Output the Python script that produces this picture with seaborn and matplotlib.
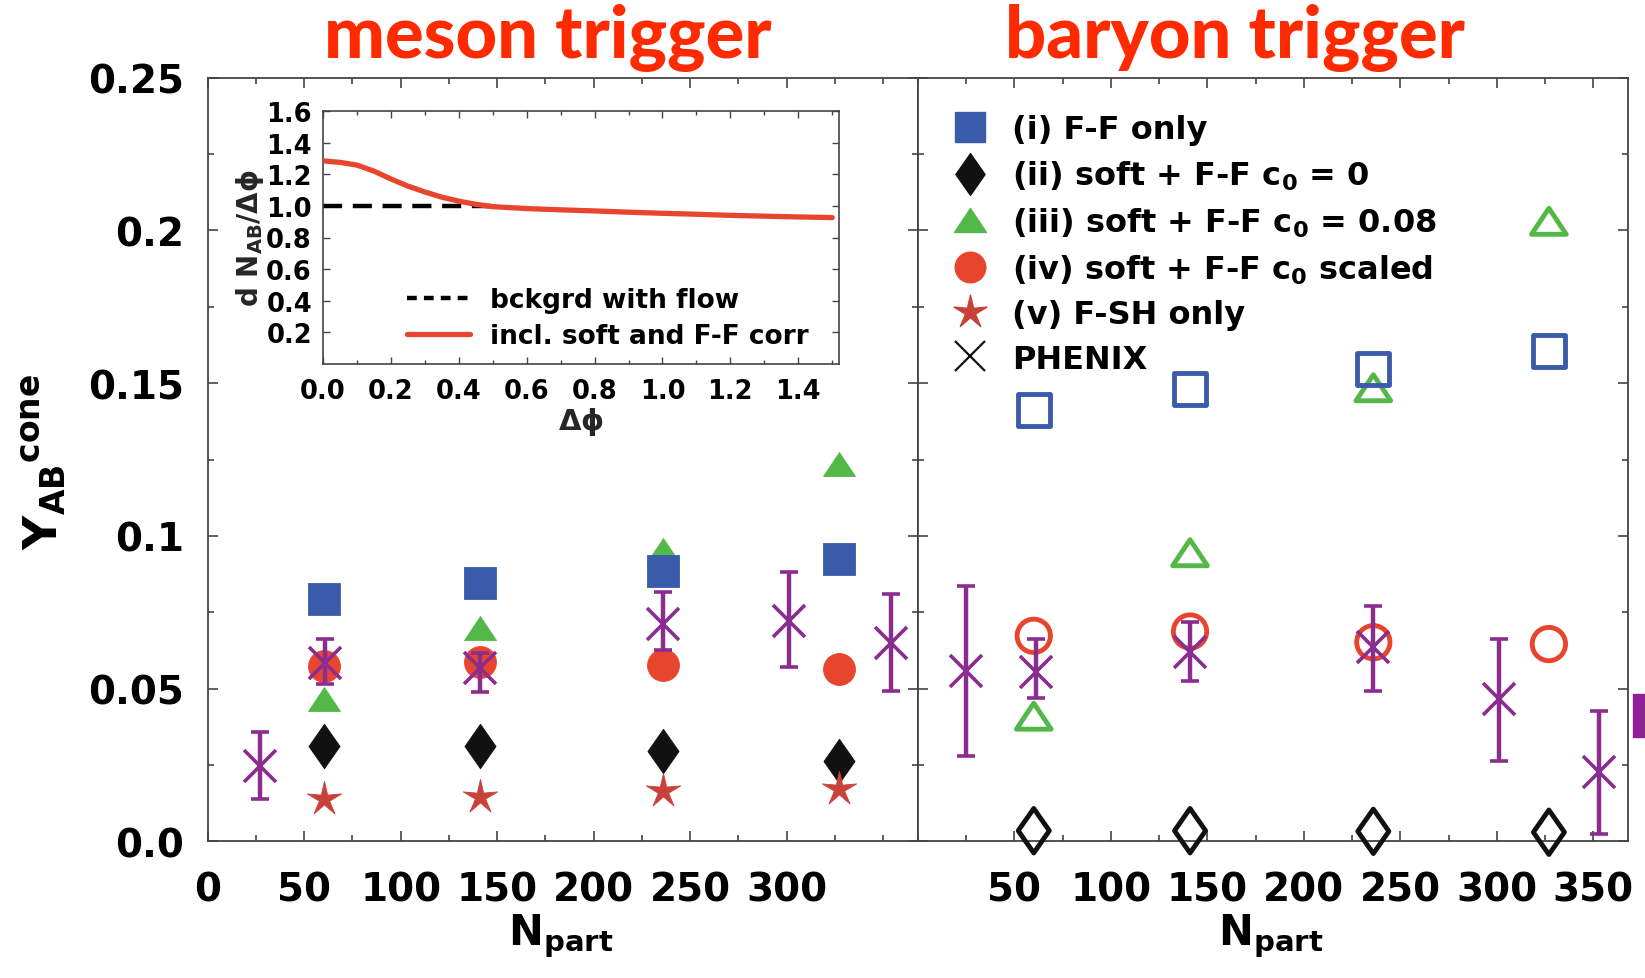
import numpy as np
import pandas as pd
import matplotlib
matplotlib.use("Agg")
import matplotlib.pyplot as plt
import seaborn as sns
from matplotlib.lines import Line2D
from matplotlib.path import Path
from matplotlib.patches import Rectangle
from matplotlib.ticker import MultipleLocator, FixedLocator

# ---------------- data ----------------
npart_model = [60, 141, 236, 327]

meson_ff_only     = [0.0793, 0.0845, 0.0886, 0.0924]
meson_soft_c0     = [0.0313, 0.0313, 0.0297, 0.0264]
meson_soft_c008   = [0.0465, 0.0697, 0.0955, 0.1235]
meson_soft_scaled = [0.0575, 0.0587, 0.0577, 0.0564]
meson_fsh_only    = [0.0139, 0.0144, 0.0166, 0.0172]

baryon_ff_only     = [0.1411, 0.1480, 0.1545, 0.1604]
baryon_soft_c0     = [0.0035, 0.0035, 0.0033, 0.0030]
baryon_soft_c008   = [0.0410, 0.0945, 0.1485, 0.2030]
baryon_soft_scaled = [0.0673, 0.0687, 0.0652, 0.0646]

phenix_meson_npart = [27, 61, 141, 236, 301, 354]
phenix_meson_y     = [0.0247, 0.0585, 0.0566, 0.0711, 0.0722, 0.0651]
phenix_meson_lo    = [0.0139, 0.0515, 0.0490, 0.0625, 0.0570, 0.0493]
phenix_meson_hi    = [0.0357, 0.0663, 0.0617, 0.0815, 0.0881, 0.0810]

phenix_baryon_npart = [25, 61, 141, 236, 301, 353]
phenix_baryon_y     = [0.0558, 0.0553, 0.0619, 0.0635, 0.0465, 0.0226]
phenix_baryon_lo    = [0.0280, 0.0470, 0.0525, 0.0493, 0.0264, 0.0024]
phenix_baryon_hi    = [0.0837, 0.0663, 0.0717, 0.0772, 0.0663, 0.0428]

inset_dphi = [0.0, 0.05, 0.1, 0.15, 0.2, 0.25, 0.3, 0.35, 0.4, 0.45, 0.5,
              0.6, 0.7, 0.8, 0.9, 1.0, 1.1, 1.2, 1.3, 1.4, 1.5]
inset_corr = [1.285, 1.275, 1.258, 1.220, 1.170, 1.125, 1.088, 1.055, 1.030, 1.010, 0.995,
              0.983, 0.975, 0.968, 0.960, 0.953, 0.947, 0.940, 0.935, 0.930, 0.926]
bkg_dphi  = [0.0, 0.5]
bkg_level = [1.0, 1.0]

legend_labels = [
    "(i) F-F only",
    r"(ii) soft + F-F c$_\mathbf{0}$ = 0",
    r"(iii) soft + F-F c$_\mathbf{0}$ = 0.08",
    r"(iv) soft + F-F c$_\mathbf{0}$ scaled",
    "(v) F-SH only",
    "PHENIX",
]
inset_legend_labels = ["bckgrd with flow", "incl. soft and F-F corr"]

left_xticks  = [0, 50, 100, 150, 200, 250, 300]
right_xticks = [50, 100, 150, 200, 250, 300, 350]
y_ticks      = [0.0, 0.05, 0.1, 0.15, 0.2, 0.25]
y_ticklabels = ["0.0", "0.05", "0.1", "0.15", "0.2", "0.25"]
inset_xticks = [0.0, 0.2, 0.4, 0.6, 0.8, 1.0, 1.2, 1.4]
inset_yticks = [0.2, 0.4, 0.6, 0.8, 1.0, 1.2, 1.4, 1.6]

# ---------------- style ----------------
sns.set_theme(style="ticks")
plt.rcParams["font.family"] = ["DejaVu Sans"]
plt.rcParams["font.weight"] = "bold"
plt.rcParams["text.color"] = "black"
plt.rcParams["xtick.labelcolor"] = "black"
plt.rcParams["ytick.labelcolor"] = "black"
plt.rcParams["mathtext.fontset"] = "dejavusans"
plt.rcParams["mathtext.default"] = "bf"

BLUE = "#3A5BAA"
BLACK = "#111111"
GREEN = "#53B848"
RED = "#E8452F"
STAR = "#C8423A"
PURPLE = "#8B2D8E"
TITLE = "#FF2A00"
SPINE = "#444444"


def closed(verts):
    v = list(verts) + [verts[0]]
    codes = [Path.MOVETO] + [Path.LINETO] * (len(verts) - 1) + [Path.CLOSEPOLY]
    return Path(v, codes)


DIAMOND = closed([(0, 1), (0.7, 0), (0, -1), (-0.7, 0)])
TRIANGLE = closed([(0, 0.75), (1, -0.75), (-1, -0.75)])
STARM = Path.unit_regular_star(5, innerCircle=0.3)

W, H = 1645, 979
fig = plt.figure(figsize=(W / 100, H / 100), dpi=100)
fig.patch.set_facecolor("white")

ax_l = fig.add_axes([207.7 / W, 1 - 842.4 / H, 710.3 / W, 763.7 / H])
ax_r = fig.add_axes([918 / W, 1 - 842.4 / H, 710 / W, 763.7 / H], sharey=ax_l)


def pts(ax, x, y, marker, ms, color, filled=True, lw=3.5, z=3, clip=True):
    df = pd.DataFrame({"Npart": x, "Y": y})
    if filled:
        sns.scatterplot(data=df, x="Npart", y="Y", ax=ax, marker=marker, s=ms ** 2,
                        color=color, edgecolor=color, linewidth=0.6, zorder=z,
                        legend=False, clip_on=clip)
    else:
        sns.scatterplot(data=df, x="Npart", y="Y", ax=ax, marker=marker, s=ms ** 2,
                        color=color, facecolor="none", edgecolor=color, linewidth=lw,
                        zorder=z, legend=False, clip_on=clip)


def phenix(ax, x, y, lo, hi):
    y = np.asarray(y)
    err = [y - np.asarray(lo), np.asarray(hi) - y]
    ax.errorbar(x, y, yerr=err, fmt="x", color=PURPLE, ms=23, mew=2.6,
                elinewidth=3.2, capsize=6.5, capthick=3.2, zorder=6, clip_on=False)


# meson trigger (left)
pts(ax_l, npart_model, meson_soft_c008, TRIANGLE, 23, GREEN, z=2)
pts(ax_l, npart_model, meson_ff_only, "s", 23, BLUE, z=3)
pts(ax_l, npart_model, meson_soft_c0, DIAMOND, 32, BLACK, z=3)
pts(ax_l, npart_model, meson_fsh_only, STARM, 26, STAR, z=3)
pts(ax_l, npart_model, meson_soft_scaled, "o", 23, RED, z=4)
phenix(ax_l, phenix_meson_npart, phenix_meson_y, phenix_meson_lo, phenix_meson_hi)

# baryon trigger (right)
pts(ax_r, npart_model, baryon_soft_c008, TRIANGLE, 25, GREEN, filled=False, z=2)
pts(ax_r, npart_model, baryon_ff_only, "s", 23, BLUE, filled=False, z=3)
pts(ax_r, npart_model, baryon_soft_c0, DIAMOND, 32, BLACK, filled=False, z=7, clip=False)
pts(ax_r, npart_model, baryon_soft_scaled, "o", 24, RED, filled=False, z=4)
phenix(ax_r, phenix_baryon_npart, phenix_baryon_y, phenix_baryon_lo, phenix_baryon_hi)

for ax, ticks in ((ax_l, left_xticks), (ax_r, right_xticks)):
    ax.set_xlim(0, 368)
    ax.set_ylim(0, 0.25)
    ax.xaxis.set_major_locator(FixedLocator(ticks))
    ax.xaxis.set_minor_locator(MultipleLocator(25))
    ax.yaxis.set_major_locator(FixedLocator(y_ticks))
    ax.yaxis.set_minor_locator(MultipleLocator(0.025))
    ax.set_xticklabels([str(t) for t in ticks])
    ax.set_xlabel("")
    ax.set_ylabel("")
    for s in ax.spines.values():
        s.set_color(SPINE)
        s.set_linewidth(1.3)
    ax.tick_params(which="both", direction="in", top=True, right=True, color=SPINE,
                   width=1.2, labelcolor="black")
    ax.tick_params(which="major", length=7)
    ax.tick_params(which="minor", length=4)
    ax.tick_params(axis="x", labelsize=28, pad=21)
    ax.tick_params(axis="y", labelsize=28, pad=17)
    for lab in ax.get_xticklabels() + ax.get_yticklabels():
        lab.set_fontweight("bold")

ax_l.set_yticklabels(y_ticklabels)
ax_r.tick_params(axis="y", labelleft=False)

# legend (right panel)
handles = [
    Line2D([], [], ls="none", marker="s", ms=22, color=BLUE),
    Line2D([], [], ls="none", marker=DIAMOND, ms=30, color=BLACK),
    Line2D([], [], ls="none", marker=TRIANGLE, ms=23, color=GREEN),
    Line2D([], [], ls="none", marker="o", ms=22, color=RED),
    Line2D([], [], ls="none", marker=STARM, ms=25, color=STAR),
    Line2D([], [], ls="none", marker="x", ms=21, mew=1.6, color=BLACK),
]
ax_r.legend(handles, legend_labels, loc="upper left", bbox_to_anchor=(0.044, 0.952),
            frameon=False, handlelength=1.3, handletextpad=0.67,
            labelspacing=0.42, borderaxespad=0, borderpad=0,
            prop={"weight": "bold", "size": 23})

# inset
axin = fig.add_axes([323 / W, 1 - 365 / H, 516 / W, 253 / H])
sns.lineplot(x=bkg_dphi, y=bkg_level, ax=axin, color="black", lw=3.2,
             linestyle=(0, (4.3, 2.4)), zorder=2)
sns.lineplot(x=inset_dphi, y=inset_corr, ax=axin, color=RED, lw=3.8, zorder=3)
axin.set_xlim(0, 1.52)
axin.set_ylim(0, 1.6)
axin.xaxis.set_major_locator(FixedLocator(inset_xticks))
axin.yaxis.set_major_locator(FixedLocator(inset_yticks))
axin.xaxis.set_minor_locator(MultipleLocator(0.1))
axin.set_xticklabels([f"{t:.1f}" for t in inset_xticks])
axin.set_yticklabels([f"{t:.1f}" for t in inset_yticks])
for s in axin.spines.values():
    s.set_color(SPINE)
    s.set_linewidth(1.2)
axin.tick_params(which="both", direction="in", top=True, right=True, color=SPINE,
                 width=1, labelcolor="black")
axin.tick_params(which="major", length=5)
axin.tick_params(which="minor", length=3)
axin.tick_params(axis="x", labelsize=18.5, pad=10)
axin.tick_params(axis="y", labelsize=18.5, pad=8)
axin.set_xlabel(r"$\mathbf{\Delta}\phi$", fontsize=21, labelpad=1)
axin.set_ylabel(r"$\mathbf{d\ N_{AB}/\Delta}\phi$", fontsize=20, labelpad=0)
in_handles = [
    Line2D([], [], color="black", lw=3.2, ls=(0, (2.2, 1.6))),
    Line2D([], [], color=RED, lw=3.8),
]
axin.legend(in_handles, inset_legend_labels, loc="lower left", bbox_to_anchor=(0.163, 0.06),
            frameon=False, handlelength=2.4, handletextpad=0.75, labelspacing=0.38,
            borderaxespad=0, borderpad=0, prop={"weight": "bold", "size": 19})

# figure texts
fig.text(548 / W, 1 - 38 / H, "meson trigger", color=TITLE, fontsize=52,
         family="Lato", fontweight="black", ha="center", va="center")
fig.text(1235 / W, 1 - 38 / H, "baryon trigger", color=TITLE, fontsize=52,
         family="Lato", fontweight="black", ha="center", va="center")
fig.text(44 / W, 1 - 462 / H, r"Y$_\mathbf{AB}$$^\mathbf{cone}$", rotation=90,
         fontsize=34, ha="center", va="center")
fig.text(561 / W, 1 - 936 / H, r"N$_\mathbf{part}$", fontsize=30, ha="center", va="center")
fig.text(1271 / W, 1 - 936 / H, r"N$_\mathbf{part}$", fontsize=30, ha="center", va="center")

# purple fragment at the right edge of the reference
fig.patches.append(Rectangle((1633 / W, 1 - 738 / H), 12 / W, 43 / H,
                             transform=fig.transFigure, color="#8E1F96", zorder=5))

fig.savefig("out.png", dpi=100, facecolor="white")
